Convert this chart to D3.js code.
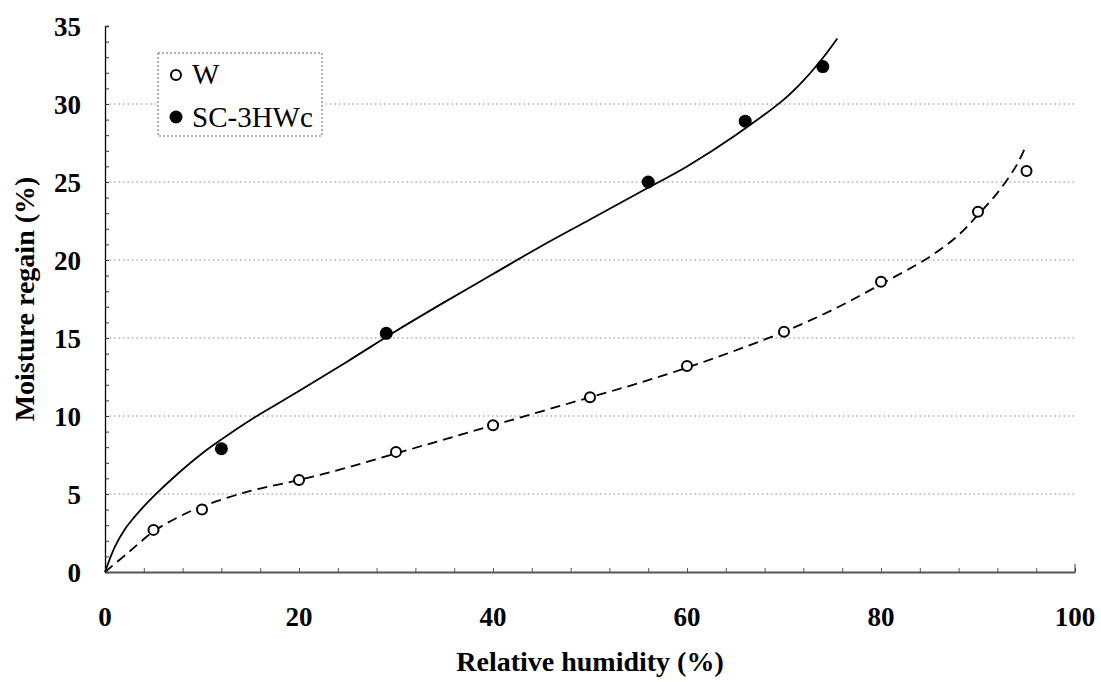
<!DOCTYPE html>
<html>
<head>
<meta charset="utf-8">
<script src="https://cdn.jsdelivr.net/npm/d3@7"></script>
<style>
  body { margin: 0; background: #fff; }
</style>
</head>
<body>
<div id="chart"></div>
<script>
// measured points
const wRH = [5, 10, 20, 30, 40, 50, 60, 70, 80, 90, 95];
const wRegain = [2.7, 4.0, 5.9, 7.7, 9.4, 11.2, 13.2, 15.4, 18.6, 23.1, 25.7];
const scRH = [12, 29, 56, 66, 74];
const scRegain = [7.9, 15.3, 25.0, 28.9, 32.4];

// fitted curves
const wFitRH = [0, 2.5, 5, 7.5, 10, 15, 20, 25, 30, 35, 40, 45, 50, 55, 60, 65, 70, 75, 80, 85, 88, 90, 92, 94, 95];
const wFitRegain = [0, 1.3, 2.6, 3.5, 4.2, 5.2, 5.9, 6.7, 7.6, 8.5, 9.4, 10.3, 11.2, 12.1, 13.1, 14.2, 15.4, 16.8, 18.45, 20.2, 21.6, 22.9, 24.3, 26.1, 27.4];
const scFitRH = [0, 1, 2, 3, 4, 5, 7.5, 10, 12, 15, 20, 25, 30, 35, 40, 45, 50, 55, 60, 65, 70, 72, 74, 75.5];
const scFitRegain = [0, 1.6, 2.7, 3.5, 4.2, 4.85, 6.3, 7.6, 8.5, 9.75, 11.6, 13.5, 15.45, 17.3, 19.1, 20.9, 22.6, 24.3, 26.0, 28.0, 30.3, 31.5, 32.95, 34.2];

const xTicks = [0, 20, 40, 60, 80, 100];
const yTicks = [0, 5, 10, 15, 20, 25, 30, 35];
const gridTicks = [5, 10, 15, 20, 25, 30];
const legendLabels = ["W", "SC-3HWc"];

const width = 1101, height = 682;
const margin = {left: 105, right: 26, top: 26, bottom: 110};
const serif = "'Liberation Serif', 'DejaVu Serif', 'Times New Roman', serif";

const svg = d3.select("#chart")
  .append("svg")
    .attr("width", width)
    .attr("height", height)
    .attr("font-family", serif);

const x = d3.scaleLinear().domain([0, 100]).range([margin.left, width - margin.right]);
const y = d3.scaleLinear().domain([0, 35]).range([height - margin.bottom, margin.top]);

// dotted grid
svg.append("g")
  .selectAll("line")
  .data(gridTicks)
  .join("line")
    .attr("x1", x(0)).attr("x2", x(100))
    .attr("y1", d => y(d)).attr("y2", d => y(d))
    .attr("stroke", "#888")
    .attr("stroke-width", 1)
    .attr("stroke-dasharray", "1.5,3");

// Y axis, ticks pointing inwards
const yAxis = svg.append("g")
  .attr("transform", `translate(${x(0)},0)`)
  .call(d3.axisRight(y).tickValues(d3.range(0, 36, 1)).tickSize(4).tickFormat(""));
yAxis.select(".domain").attr("stroke", "#000").attr("stroke-width", 1.3);
yAxis.selectAll(".tick line").attr("stroke", "#333");

svg.append("g")
  .selectAll("text")
  .data(yTicks)
  .join("text")
    .attr("x", 81)
    .attr("y", d => y(d) + 9.5)
    .attr("text-anchor", "end")
    .attr("font-family", serif)
    .attr("font-size", 27)
    .attr("font-weight", "bold")
    .text(d => d);

// X axis, ticks pointing up
const xAxis = svg.append("g")
  .attr("transform", `translate(0,${y(0)})`)
  .call(d3.axisTop(x).tickValues(d3.range(0, 101, 4)).tickSize(4).tickSizeOuter(0).tickFormat(""));
xAxis.select(".domain").attr("stroke", "#555").attr("stroke-width", 2);
xAxis.selectAll(".tick line").attr("stroke", "#555");
xAxis.append("line")
  .attr("x1", x(100)).attr("x2", x(100))
  .attr("y1", 0).attr("y2", -8)
  .attr("stroke", "#333");

svg.append("g")
  .selectAll("text")
  .data(xTicks)
  .join("text")
    .attr("x", d => x(d))
    .attr("y", 626)
    .attr("text-anchor", "middle")
    .attr("font-family", serif)
    .attr("font-size", 27)
    .attr("font-weight", "bold")
    .text(d => d);

// axis titles
svg.append("text")
  .attr("x", x(50))
  .attr("y", 671)
  .attr("text-anchor", "middle")
  .attr("font-family", serif)
  .attr("font-size", 28)
  .attr("font-weight", "bold")
  .text("Relative humidity (%)");

svg.append("text")
  .attr("transform", `translate(34,${y(17.5)}) rotate(-90)`)
  .attr("text-anchor", "middle")
  .attr("font-family", serif)
  .attr("font-size", 28)
  .attr("font-weight", "bold")
  .text("Moisture regain (%)");

// fitted curves
const line = d3.line()
  .x(d => x(d[0]))
  .y(d => y(d[1]))
  .curve(d3.curveCatmullRom);

svg.append("path")
  .datum(d3.zip(scFitRH, scFitRegain))
  .attr("d", line)
  .attr("fill", "none")
  .attr("stroke", "#000")
  .attr("stroke-width", 1.8);

svg.append("path")
  .datum(d3.zip(wFitRH, wFitRegain))
  .attr("d", line)
  .attr("fill", "none")
  .attr("stroke", "#000")
  .attr("stroke-width", 1.8)
  .attr("stroke-dasharray", "10,6");

// points
svg.append("g")
  .selectAll("circle")
  .data(d3.zip(wRH, wRegain))
  .join("circle")
    .attr("cx", d => x(d[0]))
    .attr("cy", d => y(d[1]))
    .attr("r", 5)
    .attr("fill", "#fff")
    .attr("stroke", "#000")
    .attr("stroke-width", 2);

svg.append("g")
  .selectAll("circle")
  .data(d3.zip(scRH, scRegain))
  .join("circle")
    .attr("cx", d => x(d[0]))
    .attr("cy", d => y(d[1]))
    .attr("r", 6.5)
    .attr("fill", "#000");

// legend
const legend = svg.append("g").attr("transform", "translate(158,53)");
legend.append("rect")
  .attr("width", 164).attr("height", 83)
  .attr("fill", "#fff")
  .attr("stroke", "#666")
  .attr("stroke-dasharray", "2,2");

legend.selectAll("circle")
  .data(legendLabels)
  .join("circle")
    .attr("cx", 18)
    .attr("cy", (d, i) => 22 + i * 42)
    .attr("r", (d, i) => i === 0 ? 5 : 6.5)
    .attr("fill", (d, i) => i === 0 ? "#fff" : "#000")
    .attr("stroke", "#000")
    .attr("stroke-width", (d, i) => i === 0 ? 2 : 0);

legend.selectAll("text")
  .data(legendLabels)
  .join("text")
    .attr("x", 34)
    .attr("y", (d, i) => 31 + i * 43)
    .attr("font-family", serif)
    .attr("font-size", 29)
    .text(d => d);
</script>
</body>
</html>
